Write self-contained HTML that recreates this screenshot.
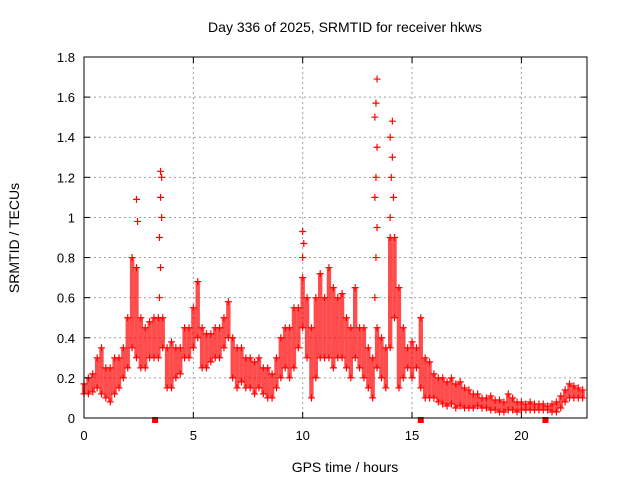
<!DOCTYPE html>
<html><head><meta charset="utf-8"><style>
body{margin:0;background:#fff}
svg{display:block;font-family:"Liberation Sans",sans-serif}
</style></head><body>
<svg id="chart" width="640" height="480" viewBox="0 0 640 480">
<text x="345" y="32" font-size="14" text-anchor="middle">Day 336 of 2025, SRMTID for receiver hkws</text>
<text transform="translate(19,238) rotate(-90)" font-size="14" text-anchor="middle">SRMTID / TECUs</text>
<text x="345" y="472" font-size="14" text-anchor="middle">GPS time / hours</text>
<g id="grid"></g><g id="marks"></g><g id="axes"></g>
</svg>
<script>
const xTicks=[0,5,10,15,20];
const yTicks=[0,0.2,0.4,0.6,0.8,1,1.2,1.4,1.6,1.8];
const yTickLabels=["0","0.2","0.4","0.6","0.8","1","1.2","1.4","1.6","1.8"];
const times=[];for(let i=0;i<=114;i++)times.push(+(i*0.2).toFixed(1));
const lowVals=[.12,.12,.13,.15,.12,.1,.08,.12,.15,.2,.25,.35,.3,.25,.25,.3,.3,.3,.35,.15,.15,.2,.22,.3,.3,.35,.4,.25,.25,.28,.3,.3,.35,.4,.2,.15,.18,.15,.15,.12,.15,.12,.1,.1,.15,.2,.25,.2,.25,.35,.45,.3,.1,.2,.3,.3,.3,.25,.3,.3,.25,.2,.3,.25,.2,.15,.1,.25,.2,.15,.35,.5,.15,.2,.25,.2,.25,.15,.1,.1,.1,.08,.07,.06,.07,.05,.06,.05,.05,.05,.06,.05,.05,.04,.04,.03,.03,.04,.04,.03,.04,.04,.04,.04,.04,.04,.04,.03,.03,.05,.08,.1,.1,.1,.1];
const highVals=[.17,.2,.22,.3,.35,.25,.25,.3,.3,.35,.5,.8,.75,.5,.45,.48,.5,.5,.5,.35,.38,.35,.35,.45,.45,.55,.68,.45,.42,.42,.45,.45,.5,.58,.4,.35,.35,.3,.3,.28,.3,.25,.25,.22,.3,.4,.45,.45,.55,.55,.7,.6,.45,.6,.72,.6,.75,.65,.6,.62,.5,.45,.65,.45,.45,.35,.3,.45,.4,.35,.9,.9,.65,.45,.35,.38,.35,.5,.3,.28,.22,.2,.2,.18,.2,.17,.18,.15,.14,.12,.12,.1,.1,.11,.09,.09,.08,.12,.1,.08,.08,.07,.08,.07,.07,.07,.06,.07,.08,.11,.14,.17,.16,.15,.14];
const spikeTimes=[2.4,2.45,3.45,3.5,3.45,3.55,3.5,3.55,3.5,10.0,10.05,10.0,13.3,13.35,13.4,13.3,13.35,13.4,13.3,13.35,13.4,14.0,14.05,14.1,14.0,14.1,14.15];
const spikeVals=[1.09,0.98,0.6,0.75,0.9,1.0,1.1,1.2,1.23,0.8,0.87,0.93,0.6,0.8,0.95,1.1,1.2,1.35,1.5,1.57,1.69,1.0,1.2,1.3,1.4,1.48,1.1];
const gapTimes=[3.25,15.4,21.1];
const L=84,R=587,T=57,B=418,XMAX=23,YMAX=1.8;
const X=v=>L+(R-L)*v/XMAX, Y=v=>B-(B-T)*v/YMAX;
const NS="http://www.w3.org/2000/svg";
function mk(tag,attrs,parent){const e=document.createElementNS(NS,tag);for(const k in attrs)e.setAttribute(k,attrs[k]);parent.appendChild(e);return e;}
const grid=document.getElementById('grid'),marks=document.getElementById('marks'),axes=document.getElementById('axes');
xTicks.forEach(t=>{if(t>0){const g=mk('line',{x1:X(t),x2:X(t),y1:T,y2:B,stroke:'#a0a0a0','stroke-dasharray':'2,3'},grid);

}
mk('line',{x1:X(t),x2:X(t),y1:B,y2:B-6,stroke:'#000'},axes);
mk('line',{x1:X(t),x2:X(t),y1:T,y2:T+6,stroke:'#000'},axes);
const lb=mk('text',{x:X(t),y:B+22,'font-size':13,'text-anchor':'middle'},axes);lb.textContent=t;

});
yTicks.forEach((t,i)=>{if(t>0){const g=mk('line',{x1:L,x2:R,y1:Y(t),y2:Y(t),stroke:'#a0a0a0','stroke-dasharray':'2,3'},grid);

}
mk('line',{x1:L,x2:L+6,y1:Y(t),y2:Y(t),stroke:'#000'},axes);
mk('line',{x1:R,x2:R-6,y1:Y(t),y2:Y(t),stroke:'#000'},axes);
const lb=mk('text',{x:L-9,y:Y(t)+5,'font-size':13,'text-anchor':'end'},axes);lb.textContent=yTickLabels[i];

});
const fr=mk('rect',{x:L,y:T,width:R-L,height:B-T,fill:'none',stroke:'#000'},axes);


function plus(x,y,c){mk('path',{d:`M${x-3.5},${y}h7M${x},${y-3.5}v7`,stroke:c,'stroke-width':1.2},marks);}
const w=(X(0.2)-X(0));
times.forEach((t,i)=>{const r=mk('rect',{x:X(t)-w/2,y:Y(highVals[i]),width:w,height:Y(lowVals[i])-Y(highVals[i]),fill:'#f00','fill-opacity':0.7},marks);


plus(X(t),Y(lowVals[i]),'#f00');plus(X(t),Y(highVals[i]),'#f00');});
spikeTimes.forEach((t,i)=>plus(X(t),Y(spikeVals[i]),'#f00'));
gapTimes.forEach(t=>{const s=mk('rect',{x:X(t)-3,y:B-1,width:6,height:6,fill:'#f00'},marks);

});
</script>
</body></html>
